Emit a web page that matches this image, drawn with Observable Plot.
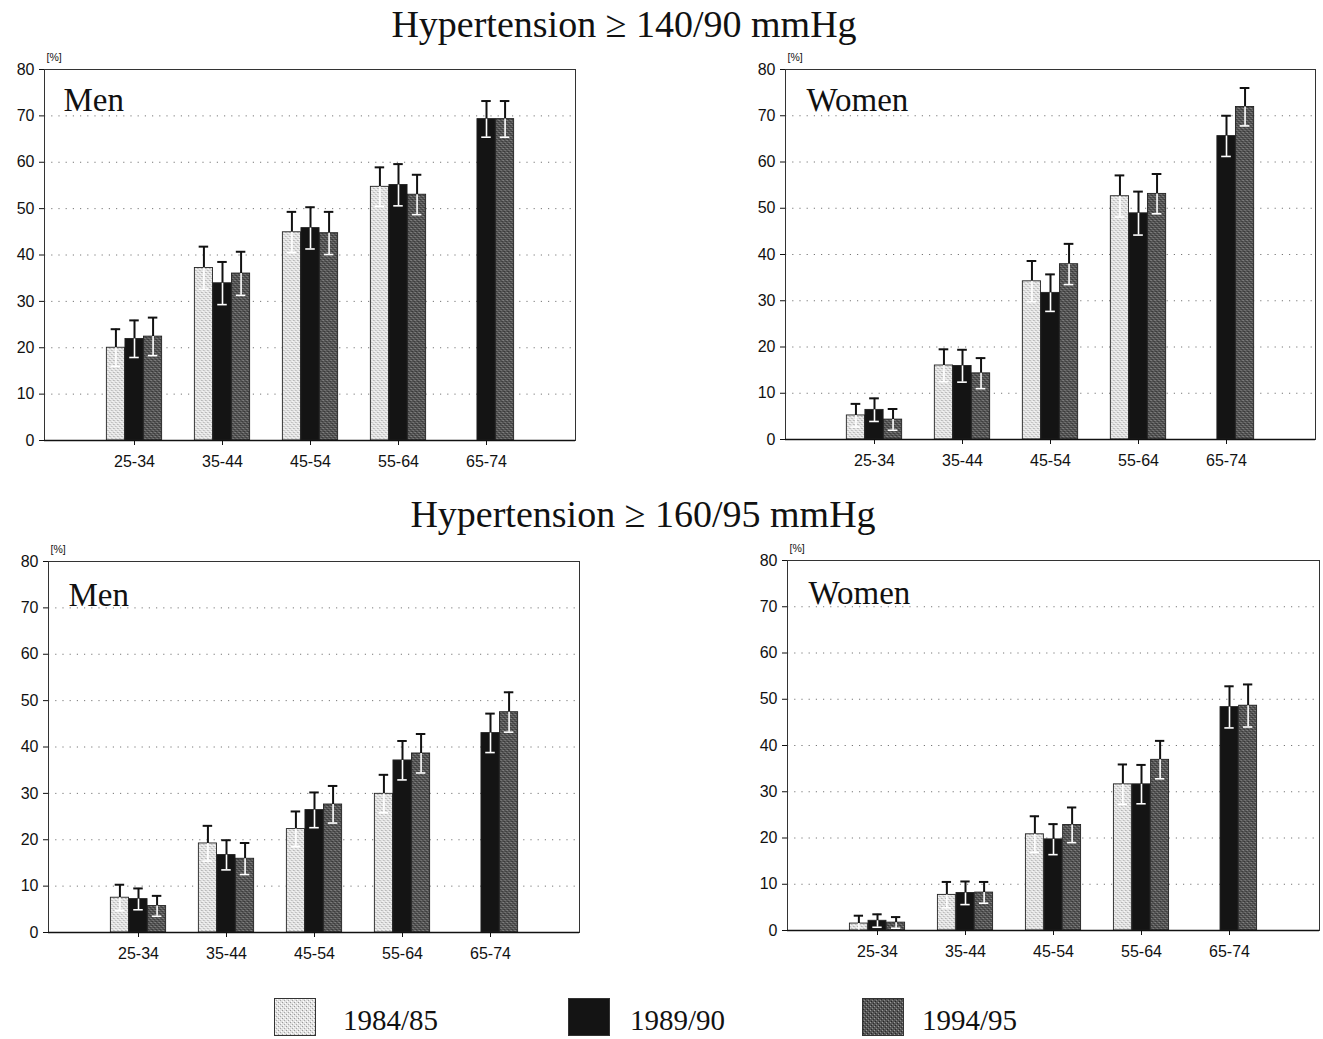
<!DOCTYPE html>
<html>
<head>
<meta charset="utf-8">
<script src="https://cdn.jsdelivr.net/npm/d3@7"></script>
<script src="https://cdn.jsdelivr.net/npm/@observablehq/plot@0.6"></script>
<style>
  html, body { margin: 0; padding: 0; background: #fff; }
  #root { position: relative; width: 1323px; height: 1039px; background: #fff; overflow: hidden; }
  .title { position: absolute; z-index: 2; font-family: "Liberation Serif", "Times New Roman", serif; font-size: 38px; line-height: 38px; white-space: nowrap; transform: translateX(-50%); color: #111; }
  .panel { position: absolute; z-index: 1; }
  .legbox { position: absolute; }
  .leglab { position: absolute; font-family: "Liberation Serif", "Times New Roman", serif; font-size: 29px; line-height: 26px; color: #111; white-space: nowrap; }
</style>
</head>
<body>
<svg width="0" height="0" style="position:absolute">
  <defs>
    <pattern id="pLight" width="4" height="4" patternUnits="userSpaceOnUse">
      <rect width="4" height="4" fill="#e2e2e2"/>
      <rect x="0" y="0" width="1" height="1" fill="#9a9a9a"/>
      <rect x="2" y="2" width="1" height="1" fill="#a8a8a8"/>
      <rect x="1" y="3" width="1" height="1" fill="#ffffff"/>
      <rect x="3" y="1" width="1" height="1" fill="#ffffff"/>
    </pattern>
    <pattern id="pDark" width="4" height="4" patternUnits="userSpaceOnUse">
      <rect width="4" height="4" fill="#555555"/>
      <rect x="0" y="0" width="1" height="1" fill="#9a9a9a"/>
      <rect x="2" y="2" width="1" height="1" fill="#888888"/>
      <rect x="1" y="3" width="1" height="1" fill="#262626"/>
      <rect x="3" y="1" width="1" height="1" fill="#2e2e2e"/>
    </pattern>
  </defs>
</svg>
<div id="root">
  <div class="title" style="left:624px; top:5px;">Hypertension ≥ 140/90 mmHg</div>
  <div class="title" style="left:643px; top:495px;">Hypertension ≥ 160/95 mmHg</div>
  <div class="panel" id="p1" style="left:0px; top:40px;"></div>
  <div class="panel" id="p2" style="left:740px; top:40px;"></div>
  <div class="panel" id="p3" style="left:0px; top:530px;"></div>
  <div class="panel" id="p4" style="left:740px; top:530px;"></div>
  <div id="legend"></div>
</div>
<script>
// ---------- data ----------
const ages = ["25-34", "35-44", "45-54", "55-64", "65-74"];
const years = ["1984/85", "1989/90", "1994/95"];
const yTicks = [0, 10, 20, 30, 40, 50, 60, 70, 80];
const gridTicks = [10, 20, 30, 40, 50, 60, 70];

// Hypertension >= 140/90 mmHg, Men
const men140_8485 = [20.0, 37.2, 44.9, 54.7, null];
const men140_8990 = [21.9, 33.9, 45.8, 55.1, 69.3];
const men140_9495 = [22.4, 36.0, 44.7, 53.0, 69.3];
const men140_ci8485 = [4.0, 4.6, 4.4, 4.2, null];
const men140_ci8990 = [4.0, 4.6, 4.5, 4.5, 3.9];
const men140_ci9495 = [4.1, 4.7, 4.6, 4.3, 3.9];

// Hypertension >= 140/90 mmHg, Women
const women140_8485 = [5.2, 16.0, 34.2, 52.6, null];
const women140_8990 = [6.4, 15.9, 31.7, 48.9, 65.6];
const women140_9495 = [4.3, 14.3, 37.9, 53.1, 71.9];
const women140_ci8485 = [2.5, 3.5, 4.4, 4.5, null];
const women140_ci8990 = [2.5, 3.5, 4.0, 4.7, 4.4];
const women140_ci9495 = [2.3, 3.3, 4.4, 4.3, 4.1];

// Hypertension >= 160/95 mmHg, Men
const men160_8485 = [7.5, 19.2, 22.3, 29.9, null];
const men160_8990 = [7.2, 16.7, 26.4, 37.1, 43.0];
const men160_9495 = [5.7, 15.9, 27.6, 38.6, 47.5];
const men160_ci8485 = [2.8, 3.8, 3.8, 4.1, null];
const men160_ci8990 = [2.3, 3.2, 3.8, 4.2, 4.2];
const men160_ci9495 = [2.2, 3.4, 4.0, 4.2, 4.3];

// Hypertension >= 160/95 mmHg, Women
const women160_8485 = [1.5, 7.7, 20.8, 31.6, null];
const women160_8990 = [2.1, 8.1, 19.7, 31.6, 48.3];
const women160_9495 = [1.7, 8.2, 22.8, 36.9, 48.6];
const women160_ci8485 = [1.7, 2.8, 3.9, 4.3, null];
const women160_ci8990 = [1.4, 2.5, 3.3, 4.2, 4.5];
const women160_ci9495 = [1.2, 2.3, 3.8, 4.1, 4.6];

const fills = ["url(#pLight)", "#141414", "url(#pDark)"];

function rowsFor(vals, cis) {
  const out = [];
  years.forEach((yr, j) => {
    ages.forEach((a, i) => {
      if (vals[j][i] != null) out.push({age: a, year: yr, value: vals[j][i], ci: cis[j][i]});
    });
  });
  return out;
}

function panel(el, cfg) {
  const {width, height, ml, mr, mt, mb, label, labelDx, labelDy, vals, cis} = cfg;
  const rows = rowsFor(vals, cis);
  const step = (width - ml - mr) / 6;
  const barW = step * 0.21;
  const inset = (step - barW) / 2;
  const capInset = (step - 10) / 2;
  const offsets = [-barW, 0, barW];
  const marks = [
    Plot.ruleY(gridTicks, {stroke: "#777", strokeDasharray: "1.2,6", strokeWidth: 1}),
  ];
  years.forEach((yr, j) => {
    const r = rows.filter(d => d.year === yr);
    marks.push(Plot.barY(r, {x: "age", y: "value", fill: "year", stroke: "#222", strokeWidth: 0.9,
      insetLeft: inset, insetRight: inset, dx: offsets[j]}));
  });
  years.forEach((yr, j) => {
    const r = rows.filter(d => d.year === yr);
    marks.push(Plot.ruleX(r, {x: "age", y1: "value", y2: d => d.value + d.ci, dx: offsets[j], stroke: "#111", strokeWidth: 2}));
    marks.push(Plot.tickY(r, {x: "age", y: d => d.value + d.ci, dx: offsets[j], insetLeft: capInset, insetRight: capInset, stroke: "#111", strokeWidth: 2}));
    marks.push(Plot.ruleX(r, {x: "age", y1: d => d.value - d.ci, y2: "value", dx: offsets[j], stroke: "#fff", strokeWidth: 1.6}));
    marks.push(Plot.tickY(r, {x: "age", y: d => d.value - d.ci, dx: offsets[j], insetLeft: capInset, insetRight: capInset, stroke: "#fff", strokeWidth: 1.6}));
  });
  marks.push(Plot.frame({stroke: "#333", strokeWidth: 1}));
  marks.push(Plot.ruleY([0], {stroke: "#111", strokeWidth: 1.5}));
  marks.push(Plot.text([label], {frameAnchor: "top-left", dx: labelDx, dy: labelDy, textAnchor: "start", lineAnchor: "bottom",
    fontFamily: "Liberation Serif, Times New Roman, serif", fontSize: 33, fill: "#111"}));
  marks.push(Plot.text(["[%]"], {frameAnchor: "top-left", dx: 2, dy: -16, textAnchor: "start",
    fontFamily: "Liberation Sans, Arial, sans-serif", fontSize: 10.5, fill: "#111"}));

  const chart = Plot.plot({
    width, height,
    marginLeft: ml, marginRight: mr, marginTop: mt, marginBottom: mb,
    style: {fontFamily: "Liberation Sans, Arial, sans-serif", fontSize: "16px", color: "#111", background: "transparent"},
    x: {type: "band", domain: ages, paddingInner: 0, paddingOuter: 0.5, tickSize: 5, tickPadding: 10, label: null},
    y: {domain: [0, 80], ticks: yTicks, tickSize: 5, tickPadding: 5, label: null},
    color: {domain: years, range: fills},
    marks
  });
  el.appendChild(chart);
}

panel(document.getElementById("p1"), {width: 600, height: 450, ml: 44, mr: 25, mt: 29, mb: 50,
  label: "Men", labelDx: 19, labelDy: 41,
  vals: [men140_8485, men140_8990, men140_9495], cis: [men140_ci8485, men140_ci8990, men140_ci9495]});
panel(document.getElementById("p2"), {width: 583, height: 450, ml: 45, mr: 8, mt: 29, mb: 51,
  label: "Women", labelDx: 21, labelDy: 41,
  vals: [women140_8485, women140_8990, women140_9495], cis: [women140_ci8485, women140_ci8990, women140_ci9495]});
panel(document.getElementById("p3"), {width: 600, height: 450, ml: 48, mr: 21, mt: 31, mb: 48,
  label: "Men", labelDx: 20, labelDy: 44,
  vals: [men160_8485, men160_8990, men160_9495], cis: [men160_ci8485, men160_ci8990, men160_ci9495]});
panel(document.getElementById("p4"), {width: 583, height: 450, ml: 47, mr: 4, mt: 30, mb: 50,
  label: "Women", labelDx: 21, labelDy: 43,
  vals: [women160_8485, women160_8990, women160_9495], cis: [women160_ci8485, women160_ci8990, women160_ci9495]});

// ---------- legend ----------
const legend = document.getElementById("legend");
const legBoxX = [274, 568, 862];
const legLabX = [343, 630, 922];
years.forEach((yr, j) => {
  const ns = "http://www.w3.org/2000/svg";
  const s = document.createElementNS(ns, "svg");
  s.setAttribute("class", "legbox");
  s.setAttribute("width", "42");
  s.setAttribute("height", "38");
  s.style.left = legBoxX[j] + "px";
  s.style.top = "998px";
  const r = document.createElementNS(ns, "rect");
  r.setAttribute("x", "0.5"); r.setAttribute("y", "0.5");
  r.setAttribute("width", "41"); r.setAttribute("height", "37");
  r.setAttribute("fill", fills[j]);
  r.setAttribute("stroke", "#333");
  s.appendChild(r);
  legend.appendChild(s);
  const t = document.createElement("div");
  t.className = "leglab";
  t.style.left = legLabX[j] + "px";
  t.style.top = "1007px";
  t.textContent = yr;
  legend.appendChild(t);
});
</script>
</body>
</html>
